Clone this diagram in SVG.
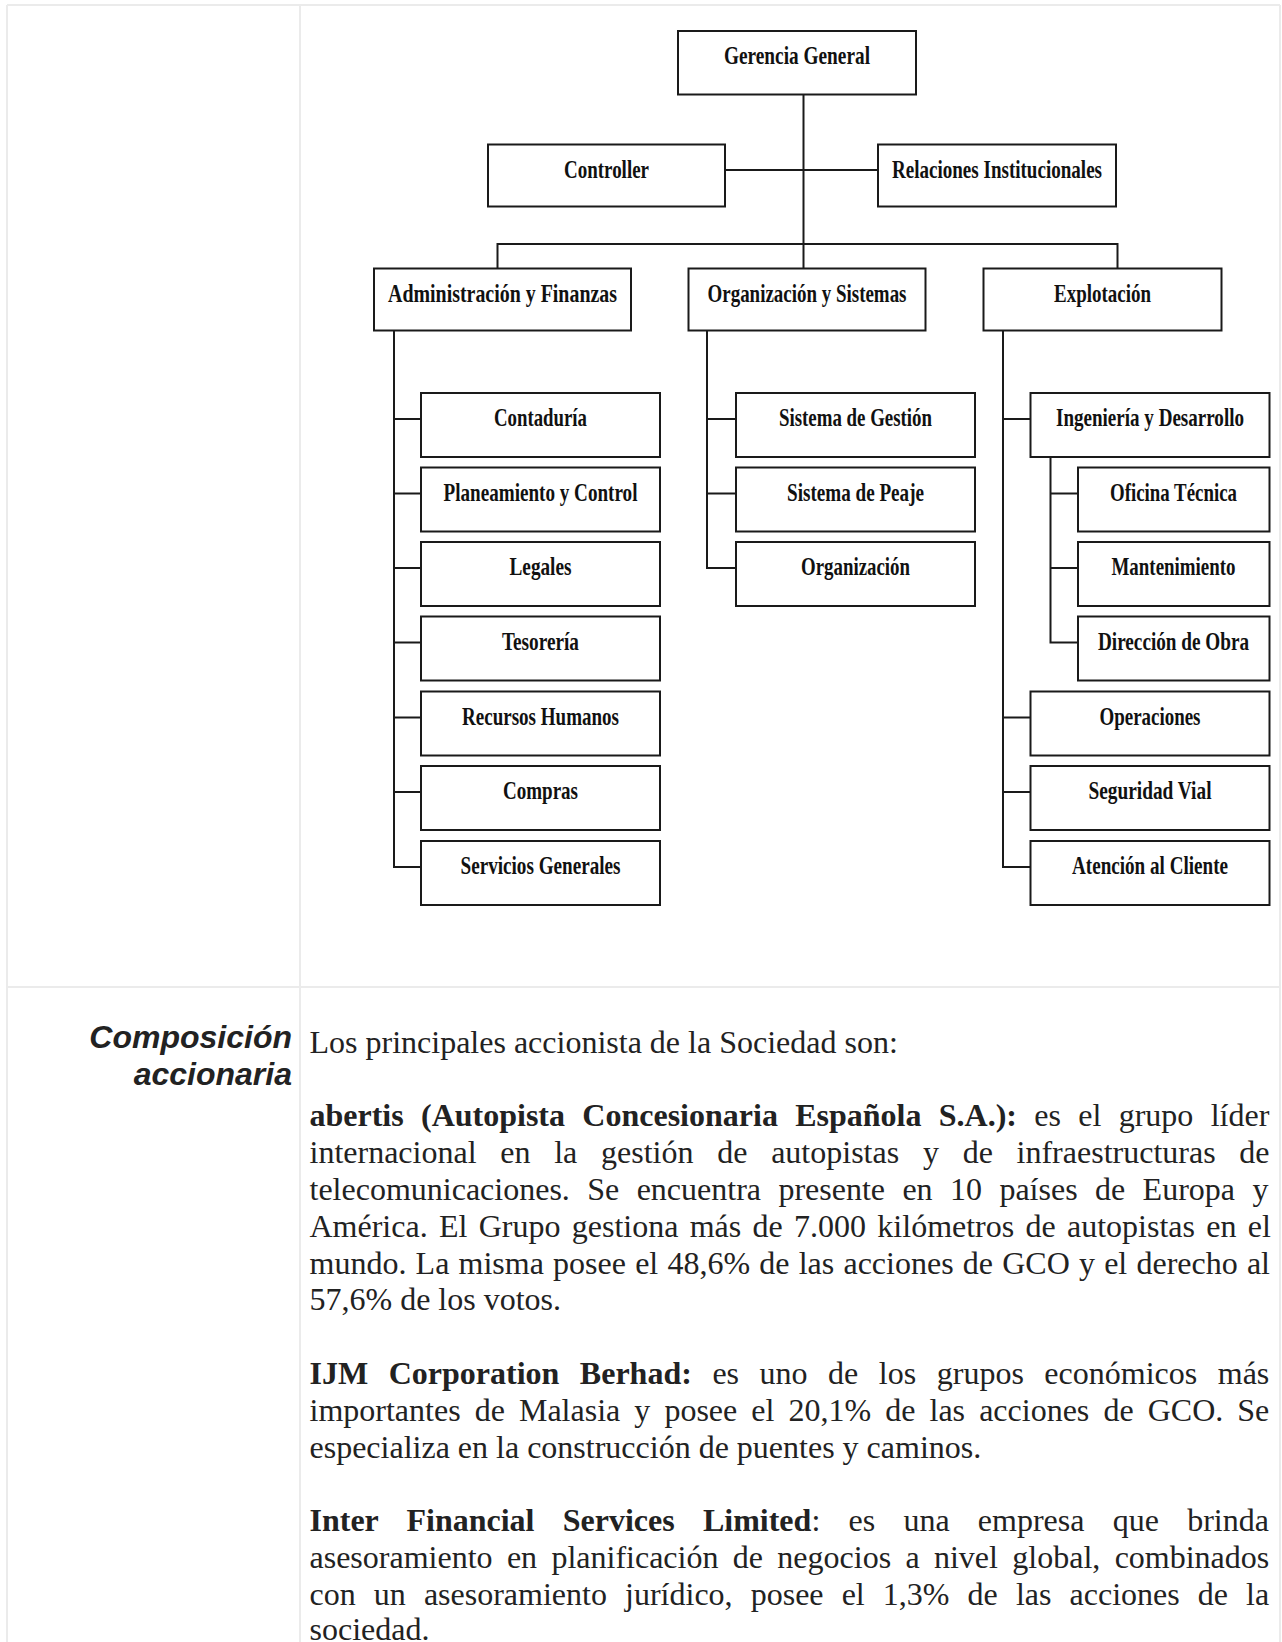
<svg xmlns="http://www.w3.org/2000/svg" width="1282" height="1642" viewBox="0 0 1282 1642">
<style>
.grid{stroke:#ebebeb;stroke-width:2;fill:none}
.box{fill:#fff;stroke:#1a1a1a;stroke-width:2}
.conn{stroke:#1a1a1a;stroke-width:2;fill:none}
.lbl{font-family:"Liberation Serif","Times New Roman",serif;font-weight:bold;font-size:26px;text-anchor:middle;fill:#111}
.body{font-family:"Liberation Serif","Times New Roman",serif;font-size:32px;fill:#222}
.b{font-weight:bold}
.head{font-family:"Liberation Sans",Arial,sans-serif;font-weight:bold;font-style:italic;font-size:32px;fill:#222;text-anchor:end}
</style>
<rect width="1282" height="1642" fill="#fff"/>
<g id="table">
<path class="grid" d="M7,5 H1280 M7,5 V1642 M300,5 V1642 M1280,5 V1642 M7,987 H1280"/>
</g>
<g id="connectors">
<path class="conn" d="M803.5,94.5 V268.5"/>
<path class="conn" d="M725,170 H878"/>
<path class="conn" d="M497.5,268.5 V244 H1117.5 V268.5"/>
<path class="conn" d="M394,330.5 V867 H421 M394,419 H421 M394,493.5 H421 M394,568 H421 M394,642.5 H421 M394,717.5 H421 M394,792 H421"/>
<path class="conn" d="M707,330.5 V568 H736 M707,419 H736 M707,493.5 H736"/>
<path class="conn" d="M1003,330.5 V867 H1030.5 M1003,419 H1030.5 M1003,717.5 H1030.5 M1003,792 H1030.5"/>
<path class="conn" d="M1050.5,457 V642.5 H1078 M1050.5,493.5 H1078 M1050.5,568 H1078"/>
</g>
<g id="gerencia"><rect class="box" x="678" y="31" width="238" height="63.5"/><text class="lbl" x="797" y="64" textLength="146" lengthAdjust="spacingAndGlyphs">Gerencia General</text></g>
<g id="controller"><rect class="box" x="488" y="144.5" width="237" height="62"/><text class="lbl" x="606.5" y="177.5" textLength="85" lengthAdjust="spacingAndGlyphs">Controller</text></g>
<g id="relaciones"><rect class="box" x="878" y="144.5" width="238" height="62"/><text class="lbl" x="997" y="177.5" textLength="210" lengthAdjust="spacingAndGlyphs">Relaciones Institucionales</text></g>
<g id="admin"><rect class="box" x="374" y="268.5" width="257" height="62"/><text class="lbl" x="502.5" y="301.5" textLength="229" lengthAdjust="spacingAndGlyphs">Administración  y  Finanzas</text></g>
<g id="orgsis"><rect class="box" x="688.5" y="268.5" width="237" height="62"/><text class="lbl" x="807" y="301.5" textLength="199" lengthAdjust="spacingAndGlyphs">Organización y Sistemas</text></g>
<g id="explotacion"><rect class="box" x="983.5" y="268.5" width="238" height="62"/><text class="lbl" x="1102.5" y="301.5" textLength="97" lengthAdjust="spacingAndGlyphs">Explotación</text></g>
<g id="contaduria"><rect class="box" x="421" y="393" width="239" height="64"/><text class="lbl" x="540.5" y="426" textLength="93" lengthAdjust="spacingAndGlyphs">Contaduría</text></g>
<g id="planeamiento"><rect class="box" x="421" y="467.5" width="239" height="64"/><text class="lbl" x="540.5" y="500.5" textLength="194" lengthAdjust="spacingAndGlyphs">Planeamiento y Control</text></g>
<g id="legales"><rect class="box" x="421" y="542" width="239" height="64"/><text class="lbl" x="540.5" y="575" textLength="62" lengthAdjust="spacingAndGlyphs">Legales</text></g>
<g id="tesoreria"><rect class="box" x="421" y="616.5" width="239" height="64"/><text class="lbl" x="540.5" y="649.5" textLength="77" lengthAdjust="spacingAndGlyphs">Tesorería</text></g>
<g id="rrhh"><rect class="box" x="421" y="691.5" width="239" height="64"/><text class="lbl" x="540.5" y="724.5" textLength="157" lengthAdjust="spacingAndGlyphs">Recursos Humanos</text></g>
<g id="compras"><rect class="box" x="421" y="766" width="239" height="64"/><text class="lbl" x="540.5" y="799" textLength="75" lengthAdjust="spacingAndGlyphs">Compras</text></g>
<g id="servicios"><rect class="box" x="421" y="841" width="239" height="64"/><text class="lbl" x="540.5" y="874" textLength="160" lengthAdjust="spacingAndGlyphs">Servicios Generales</text></g>
<g id="sisgestion"><rect class="box" x="736" y="393" width="239" height="64"/><text class="lbl" x="855.5" y="426" textLength="153" lengthAdjust="spacingAndGlyphs">Sistema de Gestión</text></g>
<g id="sispeaje"><rect class="box" x="736" y="467.5" width="239" height="64"/><text class="lbl" x="855.5" y="500.5" textLength="137" lengthAdjust="spacingAndGlyphs">Sistema de Peaje</text></g>
<g id="organizacion"><rect class="box" x="736" y="542" width="239" height="64"/><text class="lbl" x="855.5" y="575" textLength="109" lengthAdjust="spacingAndGlyphs">Organización</text></g>
<g id="ingenieria"><rect class="box" x="1030.5" y="393" width="239" height="64"/><text class="lbl" x="1150" y="426" textLength="188" lengthAdjust="spacingAndGlyphs">Ingeniería y Desarrollo</text></g>
<g id="oficina"><rect class="box" x="1078" y="467.5" width="191.5" height="64"/><text class="lbl" x="1173.5" y="500.5" textLength="127" lengthAdjust="spacingAndGlyphs">Oficina Técnica</text></g>
<g id="mantenimiento"><rect class="box" x="1078" y="542" width="191.5" height="64"/><text class="lbl" x="1173.5" y="575" textLength="124" lengthAdjust="spacingAndGlyphs">Mantenimiento</text></g>
<g id="direccion"><rect class="box" x="1078" y="616.5" width="191.5" height="64"/><text class="lbl" x="1173.5" y="649.5" textLength="151" lengthAdjust="spacingAndGlyphs">Dirección de Obra</text></g>
<g id="operaciones"><rect class="box" x="1030.5" y="691.5" width="239" height="64"/><text class="lbl" x="1150" y="724.5" textLength="101" lengthAdjust="spacingAndGlyphs">Operaciones</text></g>
<g id="seguridad"><rect class="box" x="1030.5" y="766" width="239" height="64"/><text class="lbl" x="1150" y="799" textLength="123" lengthAdjust="spacingAndGlyphs">Seguridad Vial</text></g>
<g id="atencion"><rect class="box" x="1030.5" y="841" width="239" height="64"/><text class="lbl" x="1150" y="874" textLength="156" lengthAdjust="spacingAndGlyphs">Atención al Cliente</text></g>
<g id="heading">
<text class="head" x="292" y="1048">Composición</text>
<text class="head" x="292" y="1085">accionaria</text>
</g>
<g id="bodytext" class="body">
<text x="309.5" y="1052.5">Los principales accionista de la Sociedad son:</text>
<text x="309.5" y="1125.5" word-spacing="9.31"><tspan class="b">abertis (Autopista Concesionaria Española S.A.):</tspan> es el grupo líder</text>
<text x="309.5" y="1162.5" word-spacing="15.74">internacional en la gestión de autopistas y de infraestructuras de</text>
<text x="309.5" y="1199.5" word-spacing="9.4">telecomunicaciones. Se encuentra presente en 10 países de Europa y</text>
<text x="309.5" y="1236.5" word-spacing="3.3">América. El Grupo gestiona más de 7.000 kilómetros de autopistas en el</text>
<text x="309.5" y="1273.5" word-spacing="1.2">mundo. La misma posee el 48,6% de las acciones de GCO y el derecho al</text>
<text x="309.5" y="1310">57,6% de los votos.</text>
<text x="309.5" y="1384" word-spacing="12.53"><tspan class="b">IJM Corporation Berhad:</tspan> es uno de los grupos económicos más</text>
<text x="309.5" y="1421" word-spacing="6.08">importantes de Malasia y posee el 20,1% de las acciones de GCO. Se</text>
<text x="309.5" y="1458">especializa en la construcción de puentes y caminos.</text>
<text x="309.5" y="1531" word-spacing="20.24"><tspan class="b">Inter Financial Services Limited</tspan>: es una empresa que brinda</text>
<text x="309.5" y="1568" word-spacing="6.34">asesoramiento en planificación de negocios a nivel global, combinados</text>
<text x="309.5" y="1605" word-spacing="10.1">con un asesoramiento jurídico, posee el 1,3% de las acciones de la</text>
<text x="309.5" y="1640">sociedad.</text>
</g>
</svg>
